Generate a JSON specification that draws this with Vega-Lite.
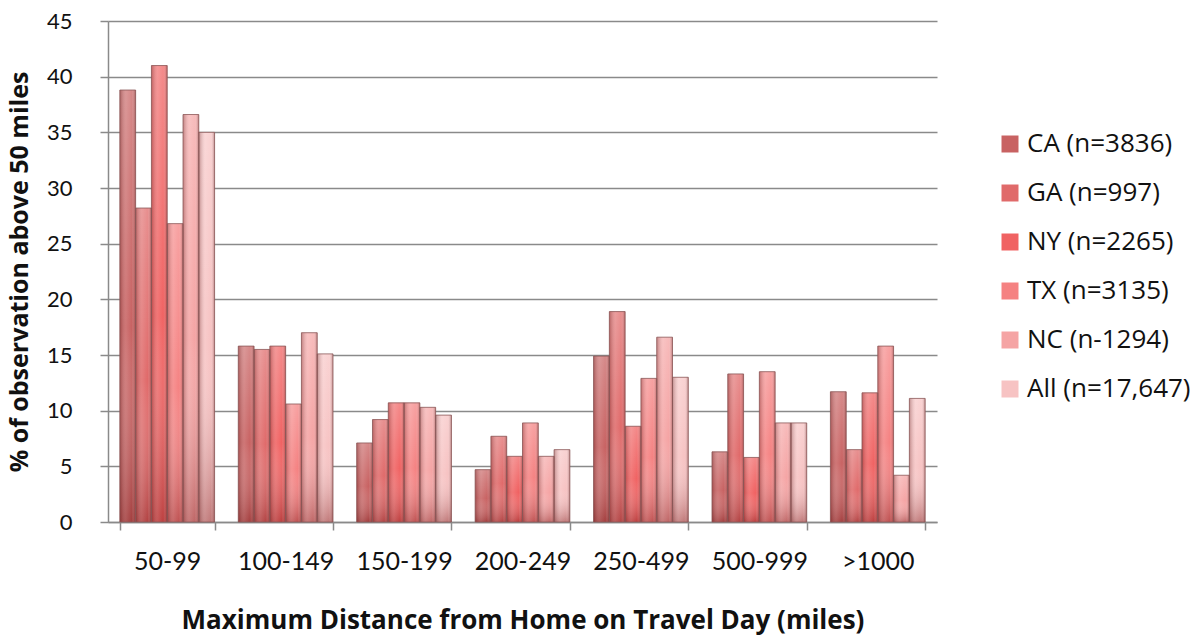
{
  "$schema": "https://vega.github.io/schema/vega-lite/v6.json",
  "width": 829,
  "height": 501,
  "autosize": "none",
  "padding": {"left": 108, "top": 21, "right": 265, "bottom": 117},
  "background": "white",
  "config": {
    "font": "Lato",
    "view": {"stroke": null},
    "axis": {"labelColor": "#111", "titleColor": "#111", "domainColor": "#8a8a8a", "tickColor": "#8a8a8a", "gridColor": "#8a8a8a", "domainWidth": 1.5, "tickWidth": 1.5, "gridWidth": 1.5}
  },
  "data": {
    "values": [
      {"dist": "50-99", "state": "CA (n=3836)", "pct": 38.8},
      {"dist": "50-99", "state": "GA (n=997)", "pct": 28.2},
      {"dist": "50-99", "state": "NY (n=2265)", "pct": 41.0},
      {"dist": "50-99", "state": "TX (n=3135)", "pct": 26.8},
      {"dist": "50-99", "state": "NC (n-1294)", "pct": 36.6},
      {"dist": "50-99", "state": "All (n=17,647)", "pct": 35.0},
      {"dist": "100-149", "state": "CA (n=3836)", "pct": 15.8},
      {"dist": "100-149", "state": "GA (n=997)", "pct": 15.5},
      {"dist": "100-149", "state": "NY (n=2265)", "pct": 15.8},
      {"dist": "100-149", "state": "TX (n=3135)", "pct": 10.6},
      {"dist": "100-149", "state": "NC (n-1294)", "pct": 17.0},
      {"dist": "100-149", "state": "All (n=17,647)", "pct": 15.1},
      {"dist": "150-199", "state": "CA (n=3836)", "pct": 7.1},
      {"dist": "150-199", "state": "GA (n=997)", "pct": 9.2},
      {"dist": "150-199", "state": "NY (n=2265)", "pct": 10.7},
      {"dist": "150-199", "state": "TX (n=3135)", "pct": 10.7},
      {"dist": "150-199", "state": "NC (n-1294)", "pct": 10.3},
      {"dist": "150-199", "state": "All (n=17,647)", "pct": 9.6},
      {"dist": "200-249", "state": "CA (n=3836)", "pct": 4.7},
      {"dist": "200-249", "state": "GA (n=997)", "pct": 7.7},
      {"dist": "200-249", "state": "NY (n=2265)", "pct": 5.9},
      {"dist": "200-249", "state": "TX (n=3135)", "pct": 8.9},
      {"dist": "200-249", "state": "NC (n-1294)", "pct": 5.9},
      {"dist": "200-249", "state": "All (n=17,647)", "pct": 6.5},
      {"dist": "250-499", "state": "CA (n=3836)", "pct": 14.9},
      {"dist": "250-499", "state": "GA (n=997)", "pct": 18.9},
      {"dist": "250-499", "state": "NY (n=2265)", "pct": 8.6},
      {"dist": "250-499", "state": "TX (n=3135)", "pct": 12.9},
      {"dist": "250-499", "state": "NC (n-1294)", "pct": 16.6},
      {"dist": "250-499", "state": "All (n=17,647)", "pct": 13.0},
      {"dist": "500-999", "state": "CA (n=3836)", "pct": 6.3},
      {"dist": "500-999", "state": "GA (n=997)", "pct": 13.3},
      {"dist": "500-999", "state": "NY (n=2265)", "pct": 5.8},
      {"dist": "500-999", "state": "TX (n=3135)", "pct": 13.5},
      {"dist": "500-999", "state": "NC (n-1294)", "pct": 8.9},
      {"dist": "500-999", "state": "All (n=17,647)", "pct": 8.9},
      {"dist": ">1000", "state": "CA (n=3836)", "pct": 11.7},
      {"dist": ">1000", "state": "GA (n=997)", "pct": 6.5},
      {"dist": ">1000", "state": "NY (n=2265)", "pct": 11.6},
      {"dist": ">1000", "state": "TX (n=3135)", "pct": 15.8},
      {"dist": ">1000", "state": "NC (n-1294)", "pct": 4.2},
      {"dist": ">1000", "state": "All (n=17,647)", "pct": 11.1}
    ]
  },
  "encoding": {
    "x": {
      "field": "dist", "type": "nominal",
      "sort": ["50-99", "100-149", "150-199", "200-249", "250-499", "500-999", ">1000"],
      "scale": {"paddingInner": 0.2, "paddingOuter": 0.1},
      "axis": {
        "title": "Maximum Distance from Home on Travel Day (miles)",
        "titleFont": "Open Sans", "titleFontSize": 26, "titleFontWeight": "bold", "titlePadding": 33,
        "labelFontSize": 25, "labelAngle": 0, "labelPadding": 19,
        "tickBand": "extent", "tickSize": 8, "grid": false
      }
    },
    "xOffset": {
      "field": "state", "type": "nominal",
      "sort": ["CA (n=3836)", "GA (n=997)", "NY (n=2265)", "TX (n=3135)", "NC (n-1294)", "All (n=17,647)"],
      "scale": {"paddingInner": 0, "paddingOuter": 0}
    },
    "y": {
      "field": "pct", "type": "quantitative",
      "scale": {"domain": [0, 45], "nice": false},
      "axis": {
        "title": "% of observation above 50 miles",
        "titleFont": "Open Sans", "titleFontSize": 25, "titleFontWeight": "bold", "titlePadding": 14,
        "labelFontSize": 22, "labelPadding": 28, "tickSize": 8,
        "values": [0, 5, 10, 15, 20, 25, 30, 35, 40, 45], "grid": true
      }
    }
  },
  "layer": [
    {
      "mark": {"type": "bar"},
      "encoding": {
        "color": {
          "field": "state", "type": "nominal",
          "sort": ["CA (n=3836)", "GA (n=997)", "NY (n=2265)", "TX (n=3135)", "NC (n-1294)", "All (n=17,647)"],
          "scale": {"range": ["#c86262", "#e06a6a", "#f06262", "#f58282", "#f5a4a4", "#f7c3c3"]},
          "legend": {
            "title": null, "orient": "none", "legendX": 889, "legendY": 110,
            "symbolType": "square", "symbolSize": 289, "symbolStrokeWidth": 0,
            "labelFont": "Open Sans", "labelFontSize": 26, "labelOffset": 4, "labelLimit": 400, "rowPadding": 23, "labelColor": "#111"
          }
        }
      }
    },
    {
      "mark": {
        "type": "bar",
        "color": {
          "gradient": "linear", "x1": 0, "y1": 0, "x2": 0, "y2": 1,
          "stops": [
            {"offset": 0, "color": "rgba(255,255,255,0.25)"},
            {"offset": 0.55, "color": "rgba(255,255,255,0)"},
            {"offset": 1, "color": "rgba(110,10,10,0.4)"}
          ]
        }
      },
      "encoding": {}
    },
    {
      "mark": {
        "type": "bar",
        "stroke": "#8a5858", "strokeWidth": 0.8,
        "color": {
          "gradient": "linear", "x1": 0, "y1": 0, "x2": 1, "y2": 0,
          "stops": [
            {"offset": 0, "color": "rgba(90,20,20,0.35)"},
            {"offset": 0.4, "color": "rgba(255,255,255,0.12)"},
            {"offset": 0.75, "color": "rgba(255,255,255,0)"},
            {"offset": 1, "color": "rgba(90,20,20,0.4)"}
          ]
        }
      },
      "encoding": {}
    }
  ]
}
